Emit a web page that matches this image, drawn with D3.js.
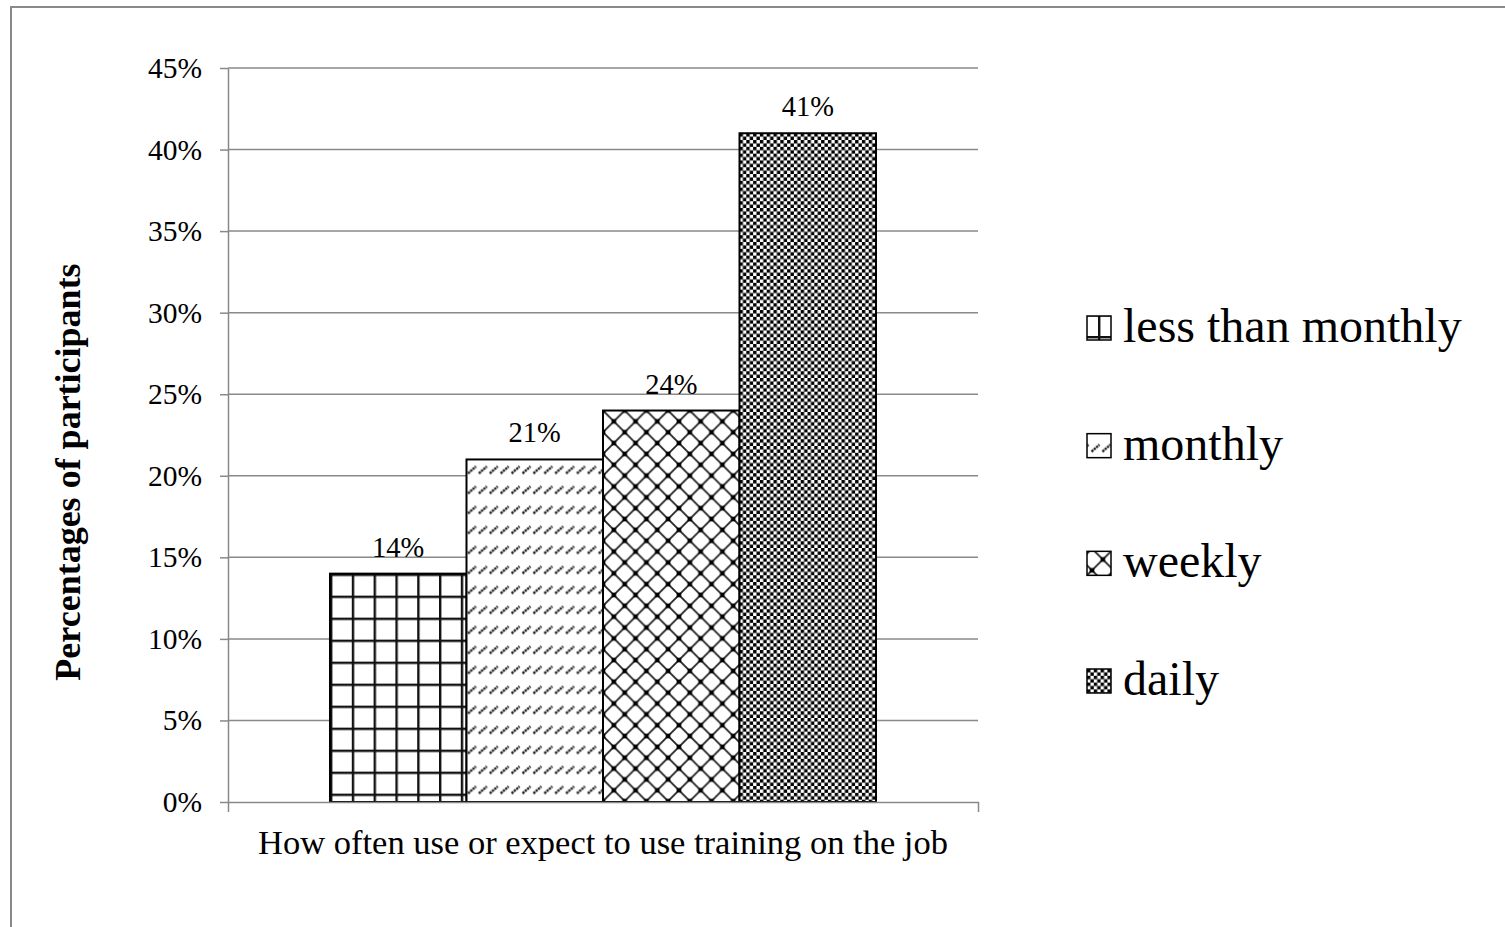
<!DOCTYPE html>
<html>
<head>
<meta charset="utf-8">
<script src="https://cdn.jsdelivr.net/npm/d3@7"></script>
<style>
  html, body { margin: 0; padding: 0; background: #fff; }
  svg { display: block; font-family: "Liberation Serif", "Times New Roman", serif; }
</style>
</head>
<body>
<svg id="chart" width="1505" height="927"></svg>
<script>
// Share of participants by how often they use (or expect to use) training on the job
const category = ["How often use or expect to use training on the job"];
const seriesNames = ["less than monthly", "monthly", "weekly", "daily"];
const seriesValues = [0.14, 0.21, 0.24, 0.41];
const valueLabels = ["14%", "21%", "24%", "41%"];
const yTickValues = [0, 0.05, 0.10, 0.15, 0.20, 0.25, 0.30, 0.35, 0.40, 0.45];
const yTickLabels = ["0%", "5%", "10%", "15%", "20%", "25%", "30%", "35%", "40%", "45%"];
const patternIds = ["pat-grid", "pat-dash", "pat-diamond", "pat-check"];
// offsets used to place each pattern inside the small legend keys
const keyOffsets = [[11, 20], [3, 4], [5, 19], [0, 0]];

const svg = d3.select("#chart");
const plot = { left: 228, right: 978, top: 68, bottom: 802 };

// outer frame of the chart area
svg.append("rect")
  .attr("x", 11).attr("y", 7).attr("width", 1600).attr("height", 1000)
  .attr("fill", "none").attr("stroke", "#898989").attr("stroke-width", 2);

const defs = svg.append("defs");

// large square grid
const pg = defs.append("pattern").attr("id", "pat-grid")
  .attr("patternUnits", "userSpaceOnUse").attr("width", 21.8).attr("height", 22);
pg.append("rect").attr("width", 21.8).attr("height", 22).attr("fill", "#fff");
pg.append("rect").attr("x", 0).attr("y", 0).attr("width", 2.4).attr("height", 22).attr("fill", "#111");
pg.append("rect").attr("x", 0).attr("y", 0).attr("width", 21.8).attr("height", 2.4).attr("fill", "#111");

// short diagonal dashes
const pd = defs.append("pattern").attr("id", "pat-dash")
  .attr("patternUnits", "userSpaceOnUse").attr("width", 10.9).attr("height", 20);
pd.append("rect").attr("width", 10.9).attr("height", 20).attr("fill", "#fff");
pd.append("line").attr("x1", 1.5).attr("y1", 14).attr("x2", 9.5).attr("y2", 7)
  .attr("stroke", "#222").attr("stroke-width", 2.4).attr("stroke-dasharray", "2.4 0.7");

// diagonal trellis with dark knots
const pw = 21.7;
const pdm = defs.append("pattern").attr("id", "pat-diamond")
  .attr("patternUnits", "userSpaceOnUse").attr("width", pw).attr("height", pw);
pdm.append("rect").attr("width", pw).attr("height", pw).attr("fill", "#fff");
pdm.append("path").attr("d", `M0,0L${pw},${pw}M${pw},0L0,${pw}M${-pw / 2},${pw / 2}L${pw / 2},${-pw / 2}M${pw / 2},${pw * 1.5}L${pw * 1.5},${pw / 2}`)
  .attr("stroke", "#222").attr("stroke-width", 1.8);
[[0, 0], [pw, 0], [0, pw], [pw, pw], [pw / 2, pw / 2]].forEach(([cx, cy]) => {
  pdm.append("rect").attr("x", cx - 2.3).attr("y", cy - 2.3).attr("width", 4.6).attr("height", 4.6).attr("fill", "#000");
});

// small checkerboard
const cs = 3.4;
const pc = defs.append("pattern").attr("id", "pat-check")
  .attr("patternUnits", "userSpaceOnUse").attr("width", cs * 2).attr("height", cs * 2);
pc.append("rect").attr("width", cs * 2).attr("height", cs * 2).attr("fill", "#fff");
pc.append("rect").attr("x", 0).attr("y", 0).attr("width", cs).attr("height", cs).attr("fill", "#000");
pc.append("rect").attr("x", cs).attr("y", cs).attr("width", cs).attr("height", cs).attr("fill", "#000");
pc.append("path").attr("d", `M0,${cs}H${cs * 2}M${cs},0V${cs * 2}`).attr("stroke", "#777").attr("stroke-width", 0.8);

// scales
const y = d3.scaleLinear().domain([0, 0.45]).range([plot.bottom, plot.top]);
const x0 = d3.scaleBand().domain(category).range([plot.left, plot.right])
  .paddingInner(0).paddingOuter(0.1868);
const x1 = d3.scaleBand().domain(seriesNames).range([0, x0.bandwidth()]).padding(0);

// horizontal gridlines
svg.append("g").selectAll("line").data(yTickValues.slice(1)).join("line")
  .attr("x1", plot.left).attr("x2", plot.right)
  .attr("y1", d => y(d)).attr("y2", d => y(d))
  .attr("stroke", "#898989").attr("stroke-width", 1.5);

// y axis
const yAxis = svg.append("g").attr("transform", `translate(${plot.left},0)`)
  .call(d3.axisLeft(y).tickValues(yTickValues)
    .tickFormat((d, i) => yTickLabels[i]).tickSizeInner(8).tickSizeOuter(0).tickPadding(18));
yAxis.select(".domain").attr("stroke", "#898989").attr("stroke-width", 1.5);
yAxis.selectAll(".tick line").attr("stroke", "#898989").attr("stroke-width", 1.5);
yAxis.selectAll(".tick text").attr("font-size", 29.5).attr("fill", "#000")
  .attr("font-family", "Liberation Serif, Times New Roman, serif");

// bars
const bars = svg.append("g");
seriesNames.forEach((name, i) => {
  const bx = x0(category[0]) + x1(name);
  d3.select("#" + patternIds[i]).attr("x", bx).attr("y", y(seriesValues[i]));
  bars.append("rect")
    .attr("x", bx).attr("y", y(seriesValues[i]))
    .attr("width", x1.bandwidth()).attr("height", y(0) - y(seriesValues[i]))
    .attr("fill", `url(#${patternIds[i]})`)
    .attr("stroke", "#000").attr("stroke-width", 2);
  bars.append("text")
    .attr("x", bx + x1.bandwidth() / 2).attr("y", y(seriesValues[i]) - 17)
    .attr("text-anchor", "middle").attr("font-size", 28.5).attr("fill", "#000")
    .text(valueLabels[i]);
});

// x axis
const xAxis = svg.append("g").attr("transform", `translate(0,${plot.bottom})`)
  .call(d3.axisBottom(x0).tickSizeInner(0).tickSizeOuter(10).tickPadding(28));
xAxis.select(".domain").attr("stroke", "#898989").attr("stroke-width", 1.5);
xAxis.selectAll(".tick text").attr("font-size", 34.5).attr("fill", "#000")
  .attr("font-family", "Liberation Serif, Times New Roman, serif");

// y axis title
svg.append("text")
  .attr("transform", "translate(80,472) rotate(-90)")
  .attr("text-anchor", "middle").attr("font-size", 36).attr("font-weight", "bold")
  .attr("fill", "#000").text("Percentages of participants");

// legend
const legendY = d3.scalePoint().domain(seriesNames).range([342, 695]);
const legend = svg.append("g");
seriesNames.forEach((name, i) => {
  const by = legendY(name);
  const sid = patternIds[i] + "-key";
  const src = d3.select("#" + patternIds[i]).node().cloneNode(true);
  src.setAttribute("id", sid);
  src.setAttribute("x", 1087 + keyOffsets[i][0]);
  src.setAttribute("y", by - 26 + keyOffsets[i][1]);
  defs.node().appendChild(src);
  legend.append("rect")
    .attr("x", 1087).attr("y", by - 26).attr("width", 24).attr("height", 24)
    .attr("fill", `url(#${sid})`).attr("stroke", "#000").attr("stroke-width", 1.5);
  legend.append("text")
    .attr("x", 1123).attr("y", by)
    .attr("font-size", 48).attr("fill", "#000").text(name);
});
</script>
</body>
</html>
